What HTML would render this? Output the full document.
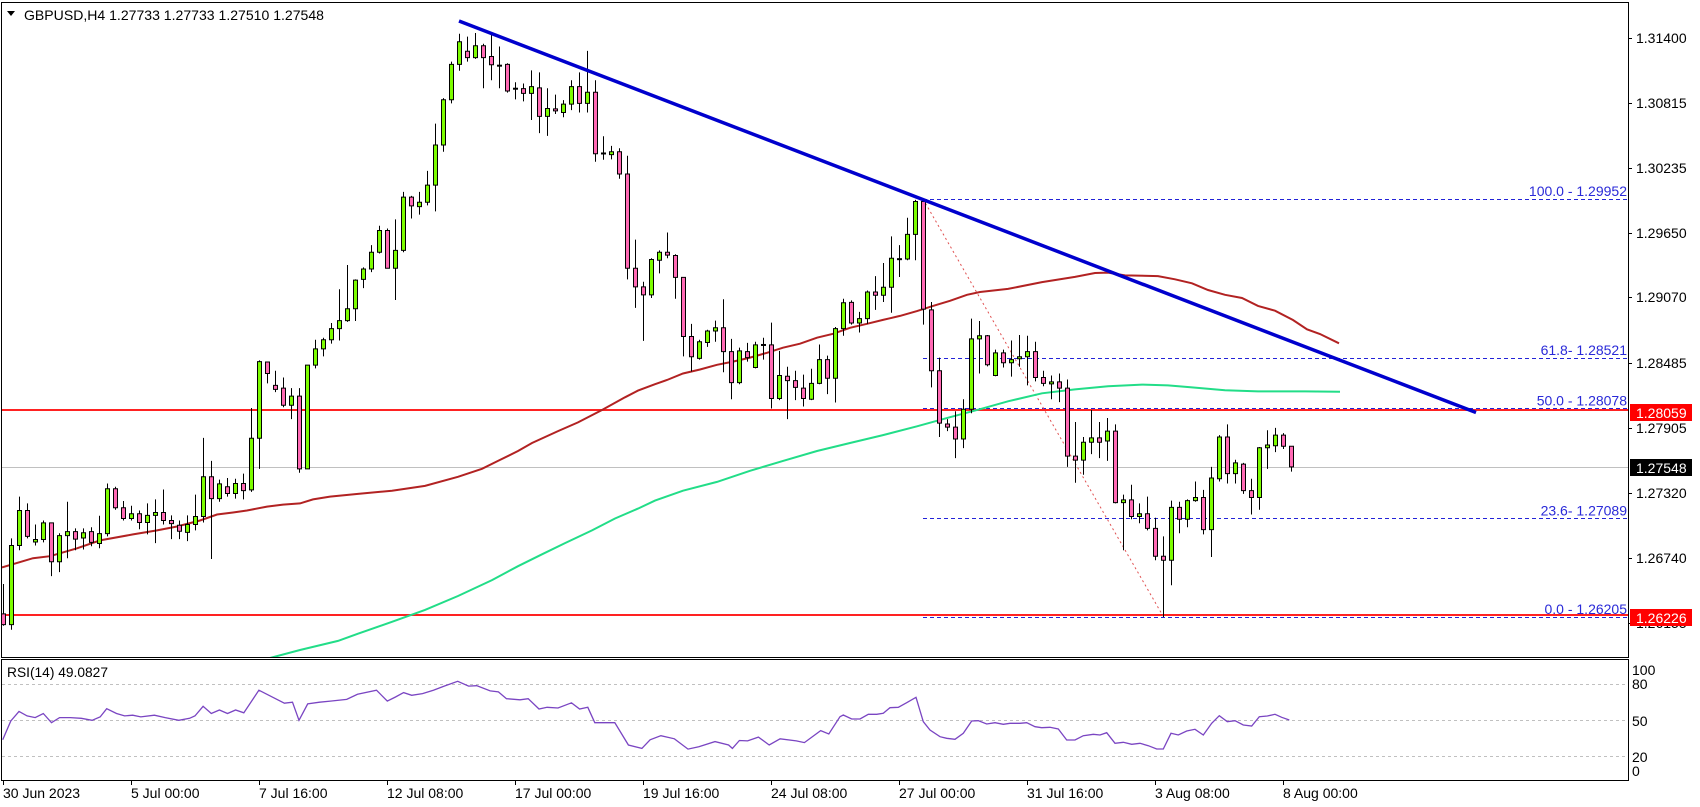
<!DOCTYPE html>
<html><head><meta charset="utf-8"><style>
html,body{margin:0;padding:0;background:#fff;}
svg{display:block;font-family:"Liberation Sans",Arial,sans-serif;}
</style></head><body>
<svg width="1700" height="807" viewBox="0 0 1700 807" xmlns="http://www.w3.org/2000/svg">
<defs><clipPath id="mc"><rect x="2" y="3" width="1626" height="654"/></clipPath></defs>
<rect x="0" y="0" width="1700" height="807" fill="#fff"/>

<g clip-path="url(#mc)">
<line x1="2" y1="467.5" x2="1628" y2="467.5" stroke="#c0c0c0" stroke-width="1"/>
<line x1="2" y1="410" x2="1628" y2="410" stroke="#f22" stroke-width="2"/>
<line x1="2" y1="615" x2="1628" y2="615" stroke="#f22" stroke-width="2"/>
<g stroke="#2323d8" stroke-width="1" stroke-dasharray="4 3">
<line x1="923" y1="199.5" x2="1628" y2="199.5"/>
<line x1="923" y1="358.5" x2="1628" y2="358.5"/>
<line x1="923" y1="408.5" x2="1628" y2="408.5"/>
<line x1="923" y1="518.5" x2="1628" y2="518.5"/>
<line x1="923" y1="617.5" x2="1628" y2="617.5"/>
</g>
<line x1="923" y1="199" x2="1163" y2="616" stroke="#e05050" stroke-width="1" stroke-dasharray="2 3"/>

<polyline fill="none" stroke="#22dd88" stroke-width="2" points="268,658.5 300,650 338,640.9 358,633.7 392,621.8 425,609.9 458,596 492,580.1 518,566.2 542,554.3 565,543.1 592,530.4 615,518.5 638,508.6 655,500.6 683,490.7 717,481.9 750,470.8 783,460.9 817,451 850,443 883,435.1 917,426.3 950,417.2 980,409.2 1008,401.3 1042,393.3 1075,389.4 1108,386.2 1142,384.6 1168,385.4 1192,387.4 1225,390.2 1258,391.4 1305,391.4 1340,391.7"/>
<polyline fill="none" stroke="#b22222" stroke-width="2" points="2,567.4 33,558.2 50,556.2 77,548.3 100,540.4 133,534.4 157,530.4 177,526.5 200,520.5 217,514.5 233,512.5 247,510.5 267,506.6 283,504.6 300,503.4 313,499.4 330,496.6 358,493.9 392,490.7 425,485.9 458,476.8 482,468.8 498,460.9 518,451 532,443 558,431.1 578,422.4 602,410 625,397.3 638,390.6 655,384.2 667,380 683,373.5 700,369.5 717,364.8 733,361.6 750,357.6 767,352.8 783,347.7 800,343.7 817,337.7 833,333.8 850,327.8 867,323.8 883,319.9 900,315.9 917,311.1 933,305.9 950,300.8 967,294.8 980,292 1008,288.9 1042,282.1 1075,276.9 1095,273 1108,272.6 1125,275.4 1158,276.1 1175,279.3 1192,283.3 1208,290 1225,294.8 1242,298 1258,305.9 1275,310.7 1293,320 1307,329.3 1320,334 1339,343.3"/>

<g transform="translate(0 17.9) scale(1 0.3973)">
<path fill="none" stroke="#000" stroke-width="1" vector-effect="non-scaling-stroke" d="M3.5 1425V1530M11.5 1310V1540M19.5 1205V1340M27.5 1222V1310M35.5 1275V1328M43.5 1265V1320M51.5 1271V1405M59.5 1297V1395M67.5 1218V1360M75.5 1285V1340M83.5 1285V1338M91.5 1282V1330M99.5 1253V1335M107.5 1172V1305M115.5 1180V1238M123.5 1216V1265M131.5 1228V1265M139.5 1240V1287M147.5 1222V1300M155.5 1212V1322M163.5 1187V1275M171.5 1252V1312M179.5 1265V1312M187.5 1252V1317M195.5 1200V1290M203.5 1057V1270M211.5 1115V1362M219.5 1162V1218M227.5 1158V1205M235.5 1160V1210M243.5 1147V1212M251.5 982V1193M259.5 862V1135M267.5 866V920M275.5 888V942M283.5 905V980M291.5 932V1010M299.5 932V1145M307.5 874V1135M315.5 810V882M323.5 805V852M331.5 768V820M339.5 683V812M347.5 622V765M355.5 658V763M363.5 628V680M371.5 572V640M379.5 523V593M387.5 530V630M395.5 507V710M403.5 438V590M411.5 448V505M419.5 438V495M427.5 385V472M435.5 266V487M443.5 202V337M451.5 110V215M459.5 40V133M467.5 47V110M475.5 38V103M483.5 65V177M491.5 42V157M499.5 72V177M507.5 114V188M515.5 162V205M523.5 165V210M531.5 132V257M539.5 137V290M547.5 177V297M555.5 193V242M563.5 207V250M571.5 157V232M579.5 137V238M587.5 83V238M595.5 157V362M603.5 298V357M611.5 322V356M619.5 328V405M627.5 347V658M635.5 558V730M643.5 664V813M651.5 605V705M659.5 585V643M667.5 540V605M675.5 595V707M683.5 653V852M691.5 770V890M699.5 810V860M707.5 785V828M715.5 762V815M723.5 708V892M731.5 808V960M739.5 830V922M747.5 818V865M755.5 815V882M763.5 805V860M771.5 767V983M779.5 838V962M787.5 878V1010M795.5 888V962M803.5 898V978M811.5 883V962M819.5 822V922M827.5 850V947M835.5 778V968M843.5 707V800M851.5 711V772M859.5 740V792M867.5 686V770M875.5 650V735M883.5 617V715M891.5 550V742M899.5 572V652M907.5 503V610M915.5 458V610M923.5 455V772M931.5 715V930M939.5 855V1055M947.5 1010V1040M955.5 990V1108M963.5 960V1083M971.5 757V995M979.5 763V895M987.5 798V877M995.5 835V902M1003.5 835V880M1011.5 812V903M1019.5 798V878M1027.5 800V925M1035.5 815V915M1043.5 888V927M1051.5 900V960M1059.5 895V967M1067.5 910V1130M1075.5 1017V1170M1083.5 1055V1150M1091.5 987V1098M1099.5 1017V1108M1107.5 1007V1115M1115.5 1023V1222M1123.5 1200V1340M1131.5 1175V1262M1139.5 1222V1272M1147.5 1205V1290M1155.5 1258V1365M1163.5 1305V1508M1171.5 1215V1428M1179.5 1218V1297M1187.5 1212V1282M1195.5 1167V1218M1203.5 1188V1300M1211.5 1130V1357M1219.5 1050V1167M1227.5 1023V1172M1235.5 1112V1172M1243.5 1120V1198M1251.5 1160V1250M1259.5 1080V1238M1267.5 1038V1135M1275.5 1032V1093M1283.5 1045V1085M1291.5 1078V1142"/>
<g fill="#7cfc00" stroke="#000" stroke-width="1">
<rect vector-effect="non-scaling-stroke" x="9.5" y="1328" width="4" height="199"/>
<rect vector-effect="non-scaling-stroke" x="17.5" y="1240" width="4" height="88"/>
<rect vector-effect="non-scaling-stroke" x="33.5" y="1313" width="4" height="6"/>
<rect vector-effect="non-scaling-stroke" x="41.5" y="1271" width="4" height="42"/>
<rect vector-effect="non-scaling-stroke" x="57.5" y="1303" width="4" height="66"/>
<rect vector-effect="non-scaling-stroke" x="65.5" y="1293" width="4" height="10"/>
<rect vector-effect="non-scaling-stroke" x="81.5" y="1296" width="4" height="13"/>
<rect vector-effect="non-scaling-stroke" x="97.5" y="1298" width="4" height="25"/>
<rect vector-effect="non-scaling-stroke" x="105.5" y="1185" width="4" height="113"/>
<rect vector-effect="non-scaling-stroke" x="129.5" y="1248" width="4" height="12"/>
<rect vector-effect="non-scaling-stroke" x="145.5" y="1252" width="4" height="18"/>
<rect vector-effect="non-scaling-stroke" x="153.5" y="1245" width="4" height="7"/>
<rect vector-effect="non-scaling-stroke" x="185.5" y="1275" width="4" height="20"/>
<rect vector-effect="non-scaling-stroke" x="193.5" y="1255" width="4" height="20"/>
<rect vector-effect="non-scaling-stroke" x="201.5" y="1155" width="4" height="100"/>
<rect vector-effect="non-scaling-stroke" x="217.5" y="1173" width="4" height="37"/>
<rect vector-effect="non-scaling-stroke" x="233.5" y="1172" width="4" height="25"/>
<rect vector-effect="non-scaling-stroke" x="249.5" y="1058" width="4" height="130"/>
<rect vector-effect="non-scaling-stroke" x="257.5" y="865" width="4" height="193"/>
<rect vector-effect="non-scaling-stroke" x="289.5" y="952" width="4" height="23"/>
<rect vector-effect="non-scaling-stroke" x="305.5" y="874" width="4" height="261"/>
<rect vector-effect="non-scaling-stroke" x="313.5" y="833" width="4" height="41"/>
<rect vector-effect="non-scaling-stroke" x="321.5" y="810" width="4" height="23"/>
<rect vector-effect="non-scaling-stroke" x="329.5" y="782" width="4" height="28"/>
<rect vector-effect="non-scaling-stroke" x="337.5" y="762" width="4" height="20"/>
<rect vector-effect="non-scaling-stroke" x="345.5" y="732" width="4" height="30"/>
<rect vector-effect="non-scaling-stroke" x="353.5" y="660" width="4" height="72"/>
<rect vector-effect="non-scaling-stroke" x="361.5" y="632" width="4" height="26"/>
<rect vector-effect="non-scaling-stroke" x="369.5" y="590" width="4" height="42"/>
<rect vector-effect="non-scaling-stroke" x="377.5" y="535" width="4" height="55"/>
<rect vector-effect="non-scaling-stroke" x="393.5" y="585" width="4" height="45"/>
<rect vector-effect="non-scaling-stroke" x="401.5" y="451" width="4" height="134"/>
<rect vector-effect="non-scaling-stroke" x="417.5" y="464" width="4" height="11"/>
<rect vector-effect="non-scaling-stroke" x="425.5" y="421" width="4" height="43"/>
<rect vector-effect="non-scaling-stroke" x="433.5" y="320" width="4" height="101"/>
<rect vector-effect="non-scaling-stroke" x="441.5" y="206" width="4" height="114"/>
<rect vector-effect="non-scaling-stroke" x="449.5" y="117" width="4" height="89"/>
<rect vector-effect="non-scaling-stroke" x="457.5" y="60" width="4" height="57"/>
<rect vector-effect="non-scaling-stroke" x="473.5" y="70" width="4" height="30"/>
<rect vector-effect="non-scaling-stroke" x="529.5" y="173" width="4" height="17"/>
<rect vector-effect="non-scaling-stroke" x="545.5" y="228" width="4" height="20"/>
<rect vector-effect="non-scaling-stroke" x="561.5" y="217" width="4" height="21"/>
<rect vector-effect="non-scaling-stroke" x="569.5" y="173" width="4" height="44"/>
<rect vector-effect="non-scaling-stroke" x="585.5" y="187" width="4" height="28"/>
<rect vector-effect="non-scaling-stroke" x="609.5" y="337" width="4" height="7"/>
<rect vector-effect="non-scaling-stroke" x="649.5" y="608" width="4" height="89"/>
<rect vector-effect="non-scaling-stroke" x="657.5" y="590" width="4" height="20"/>
<rect vector-effect="non-scaling-stroke" x="697.5" y="815" width="4" height="42"/>
<rect vector-effect="non-scaling-stroke" x="705.5" y="788" width="4" height="29"/>
<rect vector-effect="non-scaling-stroke" x="713.5" y="780" width="4" height="8"/>
<rect vector-effect="non-scaling-stroke" x="737.5" y="838" width="4" height="80"/>
<rect vector-effect="non-scaling-stroke" x="753.5" y="823" width="4" height="57"/>
<rect vector-effect="non-scaling-stroke" x="777.5" y="900" width="4" height="58"/>
<rect vector-effect="non-scaling-stroke" x="809.5" y="920" width="4" height="40"/>
<rect vector-effect="non-scaling-stroke" x="817.5" y="860" width="4" height="60"/>
<rect vector-effect="non-scaling-stroke" x="833.5" y="782" width="4" height="125"/>
<rect vector-effect="non-scaling-stroke" x="841.5" y="717" width="4" height="65"/>
<rect vector-effect="non-scaling-stroke" x="857.5" y="757" width="4" height="11"/>
<rect vector-effect="non-scaling-stroke" x="865.5" y="690" width="4" height="67"/>
<rect vector-effect="non-scaling-stroke" x="881.5" y="678" width="4" height="20"/>
<rect vector-effect="non-scaling-stroke" x="889.5" y="605" width="4" height="73"/>
<rect vector-effect="non-scaling-stroke" x="905.5" y="545" width="4" height="62"/>
<rect vector-effect="non-scaling-stroke" x="913.5" y="462" width="4" height="83"/>
<rect vector-effect="non-scaling-stroke" x="961.5" y="985" width="4" height="75"/>
<rect vector-effect="non-scaling-stroke" x="969.5" y="808" width="4" height="177"/>
<rect vector-effect="non-scaling-stroke" x="977.5" y="800" width="4" height="8"/>
<rect vector-effect="non-scaling-stroke" x="993.5" y="843" width="4" height="57"/>
<rect vector-effect="non-scaling-stroke" x="1009.5" y="860" width="4" height="8"/>
<rect vector-effect="non-scaling-stroke" x="1017.5" y="853" width="4" height="5"/>
<rect vector-effect="non-scaling-stroke" x="1025.5" y="840" width="4" height="13"/>
<rect vector-effect="non-scaling-stroke" x="1049.5" y="916" width="4" height="5"/>
<rect vector-effect="non-scaling-stroke" x="1081.5" y="1068" width="4" height="45"/>
<rect vector-effect="non-scaling-stroke" x="1089.5" y="1057" width="4" height="11"/>
<rect vector-effect="non-scaling-stroke" x="1105.5" y="1040" width="4" height="25"/>
<rect vector-effect="non-scaling-stroke" x="1121.5" y="1213" width="4" height="7"/>
<rect vector-effect="non-scaling-stroke" x="1137.5" y="1248" width="4" height="7"/>
<rect vector-effect="non-scaling-stroke" x="1169.5" y="1232" width="4" height="133"/>
<rect vector-effect="non-scaling-stroke" x="1185.5" y="1215" width="4" height="47"/>
<rect vector-effect="non-scaling-stroke" x="1193.5" y="1207" width="4" height="8"/>
<rect vector-effect="non-scaling-stroke" x="1209.5" y="1158" width="4" height="130"/>
<rect vector-effect="non-scaling-stroke" x="1217.5" y="1055" width="4" height="105"/>
<rect vector-effect="non-scaling-stroke" x="1233.5" y="1120" width="4" height="27"/>
<rect vector-effect="non-scaling-stroke" x="1257.5" y="1082" width="4" height="125"/>
<rect vector-effect="non-scaling-stroke" x="1265.5" y="1075" width="4" height="7"/>
<rect vector-effect="non-scaling-stroke" x="1273.5" y="1050" width="4" height="27"/>
</g>
<g fill="#ff69b4" stroke="#000" stroke-width="1">
<rect vector-effect="non-scaling-stroke" x="1.5" y="1500" width="4" height="27"/>
<rect vector-effect="non-scaling-stroke" x="25.5" y="1240" width="4" height="65"/>
<rect vector-effect="non-scaling-stroke" x="49.5" y="1271" width="4" height="98"/>
<rect vector-effect="non-scaling-stroke" x="73.5" y="1293" width="4" height="19"/>
<rect vector-effect="non-scaling-stroke" x="89.5" y="1293" width="4" height="27"/>
<rect vector-effect="non-scaling-stroke" x="113.5" y="1185" width="4" height="48"/>
<rect vector-effect="non-scaling-stroke" x="121.5" y="1233" width="4" height="27"/>
<rect vector-effect="non-scaling-stroke" x="137.5" y="1248" width="4" height="22"/>
<rect vector-effect="non-scaling-stroke" x="161.5" y="1245" width="4" height="20"/>
<rect vector-effect="non-scaling-stroke" x="169.5" y="1265" width="4" height="8"/>
<rect vector-effect="non-scaling-stroke" x="177.5" y="1277" width="4" height="15"/>
<rect vector-effect="non-scaling-stroke" x="209.5" y="1155" width="4" height="55"/>
<rect vector-effect="non-scaling-stroke" x="225.5" y="1180" width="4" height="17"/>
<rect vector-effect="non-scaling-stroke" x="241.5" y="1172" width="4" height="18"/>
<rect vector-effect="non-scaling-stroke" x="265.5" y="866" width="4" height="29"/>
<rect vector-effect="non-scaling-stroke" x="273.5" y="925" width="4" height="10"/>
<rect vector-effect="non-scaling-stroke" x="281.5" y="932" width="4" height="43"/>
<rect vector-effect="non-scaling-stroke" x="297.5" y="952" width="4" height="183"/>
<rect vector-effect="non-scaling-stroke" x="385.5" y="535" width="4" height="95"/>
<rect vector-effect="non-scaling-stroke" x="409.5" y="451" width="4" height="22"/>
<rect vector-effect="non-scaling-stroke" x="465.5" y="84" width="4" height="16"/>
<rect vector-effect="non-scaling-stroke" x="481.5" y="70" width="4" height="30"/>
<rect vector-effect="non-scaling-stroke" x="489.5" y="97" width="4" height="21"/>
<rect vector-effect="non-scaling-stroke" x="497.5" y="119" width="4" height="2.5"/>
<rect vector-effect="non-scaling-stroke" x="505.5" y="117" width="4" height="67"/>
<rect vector-effect="non-scaling-stroke" x="513.5" y="177" width="4" height="2.5"/>
<rect vector-effect="non-scaling-stroke" x="521.5" y="178" width="4" height="12"/>
<rect vector-effect="non-scaling-stroke" x="537.5" y="176" width="4" height="72"/>
<rect vector-effect="non-scaling-stroke" x="553.5" y="229" width="4" height="5"/>
<rect vector-effect="non-scaling-stroke" x="577.5" y="173" width="4" height="42"/>
<rect vector-effect="non-scaling-stroke" x="593.5" y="187" width="4" height="155"/>
<rect vector-effect="non-scaling-stroke" x="601.5" y="340" width="4" height="2.5"/>
<rect vector-effect="non-scaling-stroke" x="617.5" y="337" width="4" height="56"/>
<rect vector-effect="non-scaling-stroke" x="625.5" y="393" width="4" height="237"/>
<rect vector-effect="non-scaling-stroke" x="633.5" y="630" width="4" height="47"/>
<rect vector-effect="non-scaling-stroke" x="641.5" y="677" width="4" height="20"/>
<rect vector-effect="non-scaling-stroke" x="665.5" y="590" width="4" height="7"/>
<rect vector-effect="non-scaling-stroke" x="673.5" y="598" width="4" height="55"/>
<rect vector-effect="non-scaling-stroke" x="681.5" y="653" width="4" height="149"/>
<rect vector-effect="non-scaling-stroke" x="689.5" y="802" width="4" height="51"/>
<rect vector-effect="non-scaling-stroke" x="721.5" y="780" width="4" height="60"/>
<rect vector-effect="non-scaling-stroke" x="729.5" y="840" width="4" height="78"/>
<rect vector-effect="non-scaling-stroke" x="745.5" y="840" width="4" height="15"/>
<rect vector-effect="non-scaling-stroke" x="761.5" y="822" width="4" height="2.5"/>
<rect vector-effect="non-scaling-stroke" x="769.5" y="823" width="4" height="135"/>
<rect vector-effect="non-scaling-stroke" x="785.5" y="902" width="4" height="11"/>
<rect vector-effect="non-scaling-stroke" x="793.5" y="913" width="4" height="17"/>
<rect vector-effect="non-scaling-stroke" x="801.5" y="932" width="4" height="26"/>
<rect vector-effect="non-scaling-stroke" x="825.5" y="860" width="4" height="47"/>
<rect vector-effect="non-scaling-stroke" x="849.5" y="716" width="4" height="52"/>
<rect vector-effect="non-scaling-stroke" x="873.5" y="690" width="4" height="8"/>
<rect vector-effect="non-scaling-stroke" x="897.5" y="606" width="4" height="2.5"/>
<rect vector-effect="non-scaling-stroke" x="921.5" y="462" width="4" height="271"/>
<rect vector-effect="non-scaling-stroke" x="929.5" y="735" width="4" height="153"/>
<rect vector-effect="non-scaling-stroke" x="937.5" y="888" width="4" height="132"/>
<rect vector-effect="non-scaling-stroke" x="945.5" y="1022" width="4" height="8"/>
<rect vector-effect="non-scaling-stroke" x="953.5" y="1030" width="4" height="30"/>
<rect vector-effect="non-scaling-stroke" x="985.5" y="800" width="4" height="73"/>
<rect vector-effect="non-scaling-stroke" x="1001.5" y="843" width="4" height="25"/>
<rect vector-effect="non-scaling-stroke" x="1033.5" y="840" width="4" height="65"/>
<rect vector-effect="non-scaling-stroke" x="1041.5" y="905" width="4" height="15"/>
<rect vector-effect="non-scaling-stroke" x="1057.5" y="916" width="4" height="16"/>
<rect vector-effect="non-scaling-stroke" x="1065.5" y="932" width="4" height="171"/>
<rect vector-effect="non-scaling-stroke" x="1073.5" y="1103" width="4" height="10"/>
<rect vector-effect="non-scaling-stroke" x="1097.5" y="1057" width="4" height="11"/>
<rect vector-effect="non-scaling-stroke" x="1113.5" y="1040" width="4" height="180"/>
<rect vector-effect="non-scaling-stroke" x="1129.5" y="1213" width="4" height="42"/>
<rect vector-effect="non-scaling-stroke" x="1145.5" y="1248" width="4" height="37"/>
<rect vector-effect="non-scaling-stroke" x="1153.5" y="1285" width="4" height="70"/>
<rect vector-effect="non-scaling-stroke" x="1161.5" y="1355" width="4" height="10"/>
<rect vector-effect="non-scaling-stroke" x="1177.5" y="1232" width="4" height="30"/>
<rect vector-effect="non-scaling-stroke" x="1201.5" y="1207" width="4" height="81"/>
<rect vector-effect="non-scaling-stroke" x="1225.5" y="1055" width="4" height="92"/>
<rect vector-effect="non-scaling-stroke" x="1241.5" y="1123" width="4" height="67"/>
<rect vector-effect="non-scaling-stroke" x="1249.5" y="1190" width="4" height="17"/>
<rect vector-effect="non-scaling-stroke" x="1281.5" y="1050" width="4" height="28"/>
<rect vector-effect="non-scaling-stroke" x="1289.5" y="1078" width="4" height="52"/>
</g>
</g>

<line x1="459" y1="21" x2="1476" y2="412.5" stroke="#0000cd" stroke-width="3.5"/>
</g>

<g stroke="#000" stroke-width="1" fill="none">
<line x1="1" y1="2.5" x2="1629" y2="2.5"/>
<line x1="1.5" y1="2" x2="1.5" y2="657.5"/>
<line x1="1628.5" y1="2" x2="1628.5" y2="657.5"/>
<line x1="1" y1="657.5" x2="1629" y2="657.5"/>
<rect x="1.5" y="659.5" width="1627" height="121"/>
</g>

<polygon points="7,11 15,11 11,16" fill="#000"/>
<text x="24" y="20" font-size="14" fill="#000" textLength="300" lengthAdjust="spacingAndGlyphs">GBPUSD,H4  1.27733 1.27733 1.27510 1.27548</text>

<g font-size="14" fill="#2a2ad8" text-anchor="end">
<text x="1627" y="196">100.0 - 1.29952</text>
<text x="1627" y="355">61.8- 1.28521</text>
<text x="1627" y="405.5">50.0 - 1.28078</text>
<text x="1627" y="515.5">23.6- 1.27089</text>
<text x="1627" y="614">0.0 - 1.26205</text>
</g>

<g stroke="#000" stroke-width="1">
<line x1="1628" y1="38.5" x2="1632" y2="38.5"/>
<line x1="1628" y1="103.5" x2="1632" y2="103.5"/>
<line x1="1628" y1="168.5" x2="1632" y2="168.5"/>
<line x1="1628" y1="233.5" x2="1632" y2="233.5"/>
<line x1="1628" y1="297.5" x2="1632" y2="297.5"/>
<line x1="1628" y1="363.5" x2="1632" y2="363.5"/>
<line x1="1628" y1="428.5" x2="1632" y2="428.5"/>
<line x1="1628" y1="493.5" x2="1632" y2="493.5"/>
<line x1="1628" y1="558.5" x2="1632" y2="558.5"/>
<line x1="1628" y1="623.5" x2="1632" y2="623.5"/>
</g>
<g font-size="14" fill="#000">
<text x="1636" y="43">1.31400</text>
<text x="1636" y="108">1.30815</text>
<text x="1636" y="173">1.30235</text>
<text x="1636" y="238">1.29650</text>
<text x="1636" y="302">1.29070</text>
<text x="1636" y="368">1.28485</text>
<text x="1636" y="433">1.27905</text>
<text x="1636" y="498">1.27320</text>
<text x="1636" y="563">1.26740</text>
<text x="1636" y="628">1.26155</text>
</g>
<rect x="1630" y="404" width="62" height="17" fill="#ff0000"/>
<text x="1636" y="418" font-size="14" fill="#fff">1.28059</text>
<rect x="1630" y="459" width="62" height="17" fill="#000"/>
<text x="1636" y="473" font-size="14" fill="#fff">1.27548</text>
<rect x="1630" y="609" width="62" height="17" fill="#ff0000"/>
<text x="1636" y="623" font-size="14" fill="#fff">1.26226</text>

<g stroke="#c0c0c0" stroke-width="1" stroke-dasharray="3 3">
<line x1="2" y1="684.5" x2="1628" y2="684.5"/>
<line x1="2" y1="720.5" x2="1628" y2="720.5"/>
<line x1="2" y1="756.5" x2="1628" y2="756.5"/>
</g>
<polyline fill="none" stroke="#7a45c2" stroke-width="1.3" points="2.7,739.8 10.8,721 19,711.4 27.1,715.9 35.2,717.6 43.3,713.5 51.5,722.7 59.6,717.6 70.4,717.6 81.3,718.3 92.1,720.3 100.2,716.9 106.7,708.7 116.5,713.5 124.6,715.9 132.7,715.2 140.8,716.9 154.4,715.2 165.2,717.6 178.8,720.3 189.6,718.3 195,715.9 203.1,706.3 211.3,713.5 219.4,710 227.5,713.5 235.6,710 243.8,712.8 258.9,690.2 270.9,696.3 284.4,703.2 292.5,702.2 299,720.3 307.7,703.9 319.6,702.2 330.4,701.1 346.7,699.4 357.5,694.3 376.5,690.2 387.3,701.1 395.5,697 403.6,692.6 411.7,695.3 422.5,693.6 433.4,690.2 444.2,686.1 457.7,681.3 468.6,686.1 476.7,685.7 490.2,690.9 498.4,691.9 506.5,698.7 520,699.8 528.2,698.7 539,709 547.1,707.3 558,708 571.5,702.8 579.6,709 587.8,707.3 594.8,722.7 614.8,722.7 628.4,745 641.9,748.4 650.1,739.8 660.9,735.7 674.4,738.8 688,749.1 698.8,746.7 715,741.6 728.6,745 732.4,748.4 739.4,740.5 747.6,740.9 758.4,737.1 769.2,745 780.1,738.8 796.3,740.9 804.4,742.6 820.7,730.6 828.8,734 840,716.7 843.3,715 851.7,719 860,719 868.3,714.3 876.7,714.3 883.3,713.3 890,707.7 898.3,707.3 906.7,702.7 916,697.3 923.3,721.7 930,730 940,736.7 946.7,738.3 955,739.3 963.3,733.3 971.7,721 978.3,720.7 986.7,724 995,722.7 1003.3,724.3 1010,723.3 1020,723.3 1026.7,722.7 1035,726.7 1041.7,727.7 1050,727.3 1058.3,729 1066.7,740 1075,740 1083.3,735.7 1093.3,734.3 1100,735 1106.7,732.7 1115,743.3 1123.3,742.3 1131.7,744.3 1140,743.3 1148.3,745.7 1156.7,749 1163.3,749 1171,733.3 1178.3,735 1186.7,731 1195,729.3 1203.3,735 1211.7,723.3 1219.3,715.7 1227.3,721.7 1235,720.7 1243.3,725 1251.7,726 1259.3,716.7 1267.3,716 1275,714.3 1281.7,717.3 1289.3,720"/>
<text x="7" y="677" font-size="14" fill="#000" textLength="101" lengthAdjust="spacingAndGlyphs">RSI(14) 49.0827</text>
<g font-size="14" fill="#000">
<text x="1632" y="675">100</text>
<text x="1632" y="689">80</text>
<text x="1632" y="726">50</text>
<text x="1632" y="762">20</text>
<text x="1632" y="776">0</text>
</g>

<g stroke="#000" stroke-width="1">
<line x1="3.5" y1="781" x2="3.5" y2="785"/>
<line x1="131.5" y1="781" x2="131.5" y2="785"/>
<line x1="259.5" y1="781" x2="259.5" y2="785"/>
<line x1="387.5" y1="781" x2="387.5" y2="785"/>
<line x1="515.5" y1="781" x2="515.5" y2="785"/>
<line x1="643.5" y1="781" x2="643.5" y2="785"/>
<line x1="771.5" y1="781" x2="771.5" y2="785"/>
<line x1="899.5" y1="781" x2="899.5" y2="785"/>
<line x1="1027.5" y1="781" x2="1027.5" y2="785"/>
<line x1="1155.5" y1="781" x2="1155.5" y2="785"/>
<line x1="1283.5" y1="781" x2="1283.5" y2="785"/>
</g>
<g font-size="14" fill="#000">
<text x="3" y="798">30 Jun 2023</text>
<text x="131" y="798">5 Jul 00:00</text>
<text x="259" y="798">7 Jul 16:00</text>
<text x="387" y="798">12 Jul 08:00</text>
<text x="515" y="798">17 Jul 00:00</text>
<text x="643" y="798">19 Jul 16:00</text>
<text x="771" y="798">24 Jul 08:00</text>
<text x="899" y="798">27 Jul 00:00</text>
<text x="1027" y="798">31 Jul 16:00</text>
<text x="1155" y="798">3 Aug 08:00</text>
<text x="1283" y="798">8 Aug 00:00</text>
</g>
</svg>
</body></html>
